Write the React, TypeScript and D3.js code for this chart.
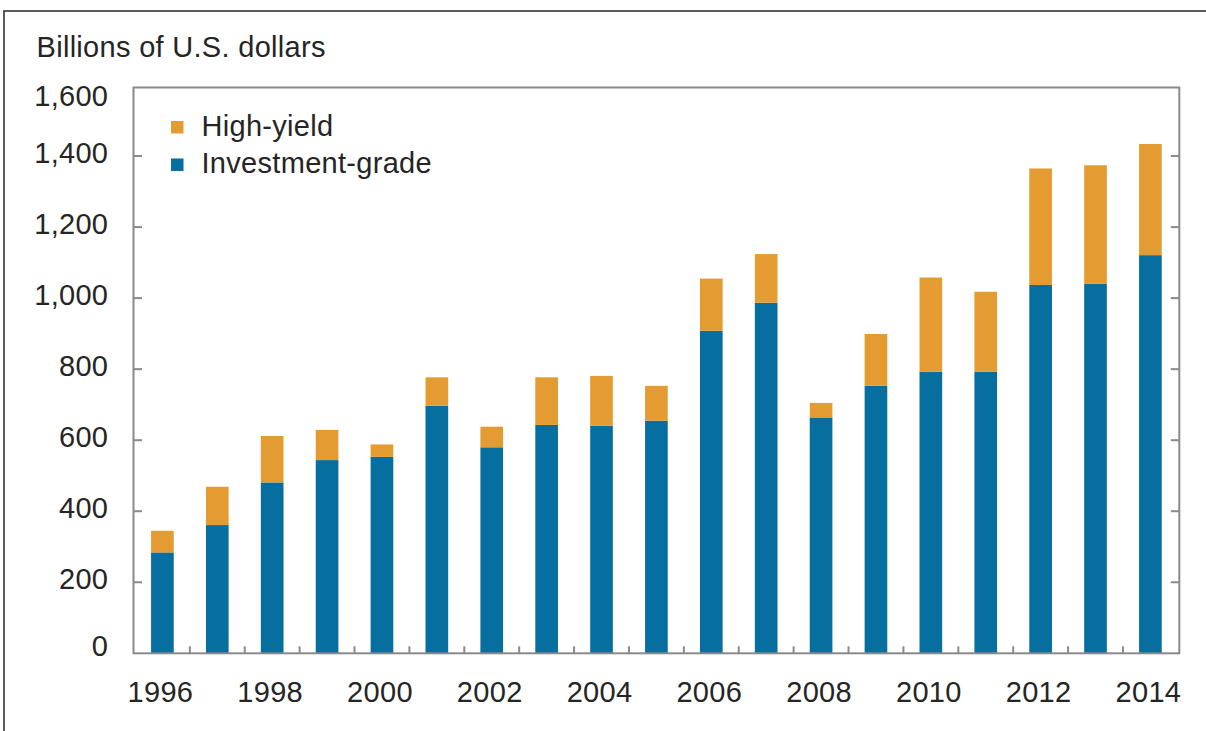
import React from "react";
import * as d3 from "d3";

const years = [1996, 1997, 1998, 1999, 2000, 2001, 2002, 2003, 2004, 2005, 2006, 2007, 2008, 2009, 2010, 2011, 2012, 2013, 2014];
const investmentGrade = [284, 361, 481, 544, 553, 697, 580, 643, 641, 655, 908, 987, 664, 753, 793, 793, 1037, 1040, 1121];
const highYield = [61, 108, 131, 85, 35, 80, 58, 134, 140, 98, 147, 137, 41, 146, 265, 225, 328, 334, 313];
const yTicks = [0, 200, 400, 600, 800, 1000, 1200, 1400, 1600];
const xLabelYears = [1996, 1998, 2000, 2002, 2004, 2006, 2008, 2010, 2012, 2014];
const seriesNames = ["High-yield", "Investment-grade"];
const unitLabel = "Billions of U.S. dollars";

const W = 1206;
const H = 731;
const left = 133.5;
const right = 1179.3;
const top = 87.5;
const bottom = 653.3;
const BLUE = "#076f9f";
const ORANGE = "#e49c32";
const TEXT = "#252525";
const FRAME = "#8a8a8a";
const FONT = "'Liberation Sans', Arial, Helvetica, sans-serif";
const FS = 29;
const LS = 0.3;

export default function App() {
  const x = d3.scaleBand<number>().domain(years).range([left, right]).paddingInner(0.587).paddingOuter(0.32);
  const y = d3.scaleLinear().domain([0, 1600]).range([bottom, 85]);
  const fmt = d3.format(",");
  const bw = x.bandwidth();
  const step = x.step();

  const tickBoundaries = years.slice(1).map((yr) => (x(yr) as number) - (step - bw) / 2);

  return (
    <div style={{ position: "absolute", left: 0, top: 0 }}>
      <svg width={W} height={H} style={{ display: "block", background: "#fff" }} fontFamily={FONT}>
        <rect x={4} y={11} width={W + 10} height={H + 10} fill="#fff" stroke="#333" strokeWidth={1.6} />
        <text x={36.5} y={57} fontSize={FS} fill={TEXT} letterSpacing={LS}>{unitLabel}</text>

        {years.map((yr, i) => {
          const x0 = x(yr) as number;
          const ig = investmentGrade[i];
          const hy = highYield[i];
          return (
            <g key={yr}>
              <rect x={x0} width={bw} y={y(ig)} height={y(0) - y(ig)} fill={BLUE} />
              <rect x={x0} width={bw} y={y(ig + hy)} height={y(ig) - y(ig + hy)} fill={ORANGE} />
            </g>
          );
        })}

        {/* frame */}
        <rect x={left} y={top} width={right - left} height={bottom - top} fill="none" stroke={FRAME} strokeWidth={2} />

        {/* y ticks both sides */}
        {yTicks.filter((v) => v > 0 && v < 1600).map((v) => (
          <g key={v}>
            <line x1={left} x2={left + 8.5} y1={y(v)} y2={y(v)} stroke={FRAME} strokeWidth={2} />
            <line x1={right} x2={right - 8.5} y1={y(v)} y2={y(v)} stroke={FRAME} strokeWidth={2} />
          </g>
        ))}
        {yTicks.map((v) => {
          const center = Math.min(Math.max(y(v) - 3.5, 96), 646);
          return (
            <text key={v} x={108.3} y={center + 10} fontSize={FS} fill={TEXT} textAnchor="end" letterSpacing={LS}>{fmt(v)}</text>
          );
        })}

        {/* x ticks between bars */}
        {tickBoundaries.map((bx, i) => (
          <line key={i} x1={bx} x2={bx} y1={bottom} y2={bottom - 7} stroke={FRAME} strokeWidth={2} />
        ))}
        {xLabelYears.map((yr) => (
          <text key={yr} x={(x(yr) as number) + bw / 2 - 2} y={701.5} fontSize={FS} fill={TEXT} textAnchor="middle" letterSpacing={LS}>{yr}</text>
        ))}

        {/* legend */}
        {seriesNames.map((name, i) => (
          <g key={name}>
            <rect x={171} y={121 + i * 37.5} width={12.5} height={12.5} fill={i === 0 ? ORANGE : BLUE} />
            <text x={201.5} y={136 + i * 37} fontSize={FS} fill={TEXT} letterSpacing={LS}>{name}</text>
          </g>
        ))}
      </svg>
    </div>
  );
}
